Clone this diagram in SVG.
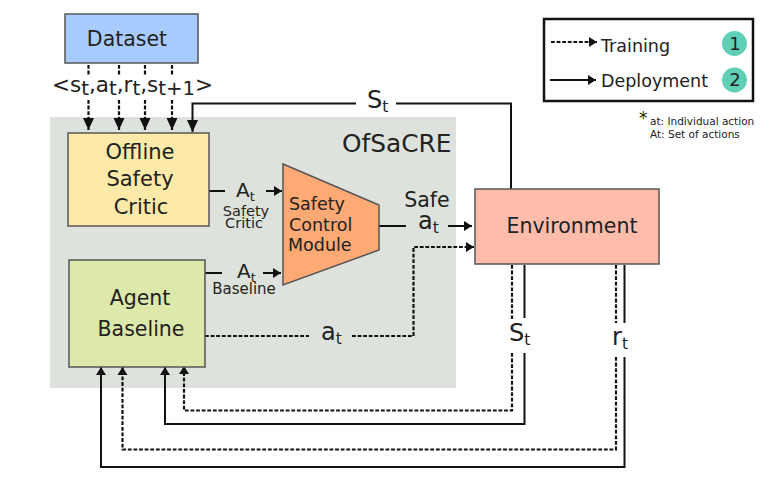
<svg xmlns="http://www.w3.org/2000/svg" width="769" height="485" viewBox="0 0 769 485">
<style>
text{font-family:"DejaVu Sans",sans-serif;fill:#222}
.box{stroke:#555;stroke-width:1.5}
.s,.d{fill:none;stroke:#111}
.s{stroke-width:2}
.d{stroke-width:2.200;stroke-dasharray:3.800 1.800}
.c{text-anchor:middle}
.sub{font-size:65%}
.t2{font-size:92%}
</style>
<defs>
<marker id="a" markerUnits="userSpaceOnUse" markerWidth="12" markerHeight="12" refX="8" refY="6" orient="auto"><path d="M0,1 L8,6 L0,11 Z" fill="#111"/></marker>
<marker id="b" markerUnits="userSpaceOnUse" markerWidth="14" markerHeight="14" refX="12" refY="7" orient="auto"><path d="M0,1.500 L12,7 L0,12.500 Z" fill="#111"/></marker>
</defs>
<rect id="panel" x="50" y="117" width="406" height="271" fill="#dee2dc"/>
<g id="connectors">
<path class="d" d="M88.500 65V75M88.500 100V130" marker-end="url(#b)"/>
<path class="d" d="M119 65V75M119 100V130" marker-end="url(#b)"/>
<path class="d" d="M145 65V75M145 100V130" marker-end="url(#b)"/>
<path class="d" d="M172 65V75M172 100V130" marker-end="url(#b)"/>
<path class="s" d="M511 189V103.500H396M356 103.500H192.500V132" marker-end="url(#b)"/>
<path class="s" d="M209 191H225M266 191H282" marker-end="url(#a)"/>
<path class="s" d="M205 273H222M263 273H281" marker-end="url(#a)"/>
<path class="s" d="M379 226H406M448 226H472" marker-end="url(#a)"/>
<path class="d" d="M205 336H309M352 336H413.500V247H474" marker-end="url(#a)"/>
<path class="d" d="M512 265V319M512 353V410.500H184V366" marker-end="url(#a)"/>
<path class="s" d="M524.500 265V318M524.500 353V424H165V367" marker-end="url(#a)"/>
<path class="d" d="M616 265V323M616 357V449.500H122.500V367" marker-end="url(#a)"/>
<path class="s" d="M624.500 265V323M624.500 357V467H101V367" marker-end="url(#a)"/>
</g>
<g id="dataset"><rect class="box" x="65" y="14" width="133" height="49" fill="#a9ccff"/><text class="c" x="127" y="46" font-size="20.500">Dataset</text></g>
<g id="tuple"><text x="52" y="92" font-size="21.500">&lt;s<tspan class="t2" dy="3">t</tspan><tspan dy="-3">,a</tspan><tspan class="t2" dy="3">t</tspan><tspan dy="-3">,r</tspan><tspan class="t2" dy="3">t</tspan><tspan dy="-3">,s</tspan><tspan class="t2" dy="3">t+1</tspan><tspan dy="-3">&gt;</tspan></text></g>
<g id="critic"><rect class="box" x="68" y="133" width="141" height="93" fill="#fdeaa8"/><text class="c" font-size="21"><tspan x="140" y="159">Offline</tspan><tspan x="140" y="186">Safety</tspan><tspan x="141" y="214">Critic</tspan></text></g>
<g id="baseline"><rect class="box" x="69" y="260" width="136" height="107" fill="#dde8ab"/><text class="c" font-size="20.500"><tspan x="140" y="305">Agent</tspan><tspan x="141" y="336">Baseline</tspan></text></g>
<g id="module"><path class="box" d="M283 164L379 205V250L283 285Z" fill="#ffa974"/><text font-size="17.500"><tspan x="289" y="210">Safety</tspan><tspan x="289" y="231">Control</tspan><tspan x="288" y="251">Module</tspan></text></g>
<g id="environment"><rect class="box" x="475" y="189" width="184" height="75" fill="#ffbcaa"/><text class="c" x="572" y="233" font-size="20.500">Environment</text></g>
<g id="labels">
<text x="342" y="152" font-size="24.800">OfSaCRE</text>
<text x="367" y="108" font-size="24">S<tspan class="sub" dy="4">t</tspan></text>
<text x="236" y="197" font-size="20">A<tspan class="sub" dy="4">t</tspan></text>
<text class="c" font-size="14.500"><tspan x="246" y="216">Safety</tspan><tspan x="244" y="228">Critic</tspan></text>
<text x="237" y="278" font-size="20">A<tspan class="sub" dy="4">t</tspan></text>
<text class="c" x="244" y="294" font-size="15">Baseline</text>
<text class="c" x="427" y="207" font-size="20.500">Safe</text>
<text x="418" y="229" font-size="24">a<tspan class="sub" dy="4">t</tspan></text>
<text x="321" y="340" font-size="24">a<tspan class="sub" dy="4">t</tspan></text>
<text x="509" y="341" font-size="24">S<tspan class="sub" dy="4">t</tspan></text>
<text x="612" y="345" font-size="24">r<tspan class="sub" dy="4">t</tspan></text>
</g>
<g id="legend">
<rect x="544" y="19" width="209" height="82" fill="#fff" stroke="#111" stroke-width="2.500"/>
<path class="d" d="M551 42H597" marker-end="url(#a)"/>
<path class="s" d="M550 80H596" marker-end="url(#a)"/>
<text x="601" y="52" font-size="17.500">Training</text>
<text x="601" y="87" font-size="17.500">Deployment</text>
<circle cx="734.500" cy="43.500" r="12.500" fill="#5fd0b5"/><text class="c" x="735" y="50" font-size="18">1</text>
<circle cx="734.500" cy="80" r="12.500" fill="#5fd0b5"/><text class="c" x="735" y="86" font-size="18">2</text>
</g>
<g id="note">
<text x="639" y="124" font-size="17">*</text>
<text font-size="10.500"><tspan x="650" y="125">at: Individual action</tspan><tspan x="650" y="138">At: Set of actions</tspan></text>
</g>
</svg>
